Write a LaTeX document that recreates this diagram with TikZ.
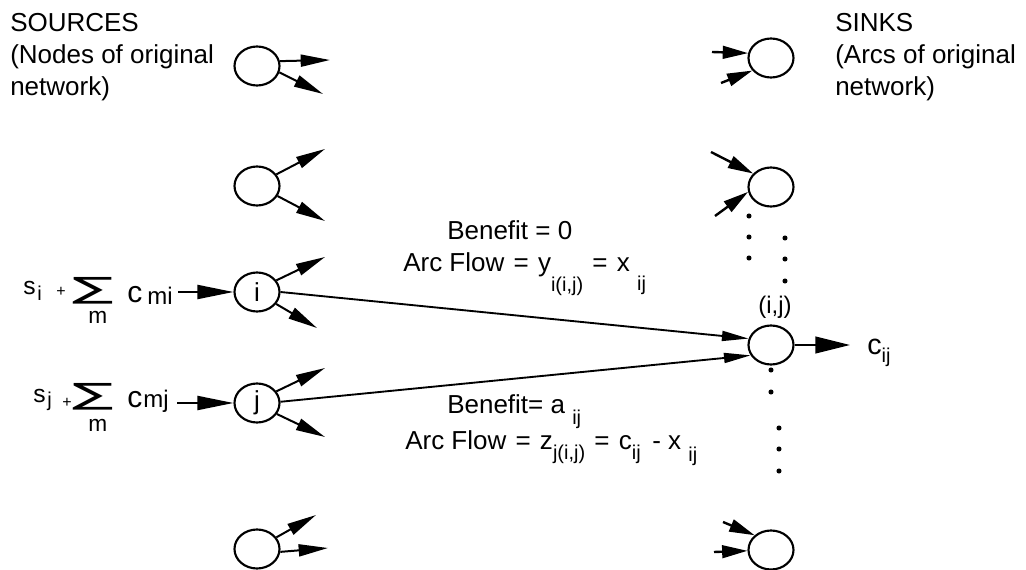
\documentclass[tikz,border=0pt]{standalone}
\usepackage{fontspec}
\usepackage{graphicx}
\setmainfont{Liberation Sans}
\newfontfamily\symfont{DejaVu Sans}
\usetikzlibrary{shapes.geometric,arrows.meta}
% font size helper (size in pt)
\newcommand\pxfont[1]{\fontsize{#1pt}{#1pt}\selectfont}
% lowered subscript: drop, text
\newcommand\lowsub[2]{\raisebox{-#1}{\pxfont{15}#2}}
% summation sign of fixed size
\newcommand\bigsum{{\symfont\resizebox*{31pt}{20pt}{∑}}}
% equals sign with slightly wide spacing
\newcommand\eqs{\ \hspace{1.5pt}=\ \hspace{1.5pt}}

\begin{document}
\begin{tikzpicture}[x=0.75pt,y=-0.75pt,
  nd/.style={draw,ellipse,line width=1.6pt,minimum width=33.75pt,
    minimum height=29.25pt,inner sep=0pt,font=\pxfont{19.5}},
  fan/.style={line width=1.5pt,-{Triangle[length=22pt,width=9pt]}},
  sinkin/.style={line width=1.8pt,-{Triangle[length=19pt,width=9.5pt]}},
  feed/.style={line width=1.5pt,-{Triangle[length=27pt,width=10.5pt]}},
  long/.style={line width=1.4pt,-{Triangle[length=20pt,width=7.5pt]}},
  outarrow/.style={line width=1.5pt,-{Triangle[length=26pt,width=12.5pt]}},
  lbl/.style={inner sep=0pt,anchor=base west,font=\pxfont{19.5}}
]
\useasboundingbox (0,0) rectangle (1026,570);

% ---------- headings ----------
\node[lbl] (srcA) at (10,32) {SOURCES};
\node[lbl] (srcB) at (10,64) {(Nodes of original};
\node[lbl] (srcC) at (10,96) {network)};
\node[lbl] (snkA) at (835,32) {SINKS};
\node[lbl] (snkB) at (835,64) {(Arcs of original};
\node[lbl] (snkC) at (835,96) {network)};

% ---------- source nodes ----------
\node[nd] (s1) at (257,66) {};
\node[nd] (s2) at (257,186) {};
\node[nd] (si) at (257,292) {i};
\node[nd] (sj) at (257,403) {j};
\node[nd] (s5) at (257,549) {};

% ---------- sink nodes ----------
\node[nd] (t1) at (771,58) {};
\node[nd] (t2) at (771,187) {};
\node[nd] (tij) at (771,345) {};
\node[nd] (t5) at (771,550) {};

% ---------- outgoing arcs of the sources ----------
\coordinate (s1a) at (330,60);  \coordinate (s1b) at (323,94);
\coordinate (s2a) at (325,149); \coordinate (s2b) at (325,221);
\coordinate (sia) at (325,257); \coordinate (sib) at (317,328);
\coordinate (sja) at (325,368); \coordinate (sjb) at (325,437);
\coordinate (s5a) at (316,515); \coordinate (s5b) at (328,548);
\draw[fan] (s1.12) -- (s1a);  \draw[fan] (s1.344) -- (s1b);
\draw[fan] (s2.31) -- (s2a);  \draw[fan] (s2.334) -- (s2b);
\draw[fan] (si.31) -- (sia);  \draw[fan] (si.328) -- (sib);
\draw[fan] (sj.31) -- (sja);  \draw[fan] (sj.331) -- (sjb);
\draw[fan] (s5.31) -- (s5a);  \draw[fan] (s5.353) -- (s5b);

% ---------- incoming arcs of the sinks ----------
\coordinate (t1a) at (712,52);  \coordinate (t1b) at (721,83);
\coordinate (t2a) at (711,152); \coordinate (t2b) at (715,216);
\coordinate (t5a) at (723,522); \coordinate (t5b) at (714,552);
\draw[sinkin] (t1a) -- (t1.168); \draw[sinkin] (t1b) -- (t1.214);
\draw[sinkin] (t2a) -- (t2.143); \draw[sinkin] (t2b) -- (t2.192);
\draw[sinkin] (t5a) -- (t5.138); \draw[sinkin] (t5b) -- (t5.182);

% ---------- the two arcs into sink (i,j) ----------
\draw[long] (si.east) -- (tij.164);
\draw[long] (sj.3) -- (tij.207);

% ---------- supply arrows ----------
\coordinate (siin) at (178,292);
\coordinate (sjin) at (177,403);
\draw[feed] (siin) -- (si);
\draw[feed] (sjin) -- (sj);

% ---------- demand arrow ----------
\coordinate (tout) at (850,345);
\draw[outarrow] (tij) -- (tout);
\node[lbl,font=\pxfont{21.5}] (cij) at (867,355) {c\raisebox{-5.5pt}{\pxfont{15}ij}};
\node[lbl,anchor=base,font=\pxfont{18}] (ijlbl) at (775,314) {(i,j)};

% ---------- supply expressions ----------
\node[lbl,font=\pxfont{18.5}] (ris) at (23,295) {s};
\node[lbl,font=\pxfont{15}] (risub) at (37,301) {i};
\node[lbl,font=\pxfont{12}] (riplus) at (56,297) {+};
\node[inner sep=0pt] (risum) at (93.5,291) {\bigsum};
\node[lbl,font=\pxfont{17}] (rim) at (88,324) {m};
\node[lbl,font=\pxfont{22.5}] (ric) at (127,303) {c};
\node[lbl,font=\pxfont{18}] (rimi) at (147,305) {mi};

\node[lbl,font=\pxfont{18.5}] (rjs) at (33,403) {s};
\node[lbl,font=\pxfont{15}] (rjsub) at (47,407) {j};
\node[lbl,font=\pxfont{12}] (rjplus) at (62,408) {+};
\node[inner sep=0pt] (rjsum) at (93.5,397) {\bigsum};
\node[lbl,font=\pxfont{17}] (rjm) at (88,432) {m};
\node[lbl,font=\pxfont{22.5}] (rjc) at (127,408) {c};
\node[lbl,font=\pxfont{18}] (rjmj) at (143,408) {mj};

% ---------- arc labels ----------
\node[lbl] (ben0) at (447,240) {Benefit = 0};
\node[lbl] (flow0) at (403,272) {Arc Flow\eqs y\lowsub{15pt}{i(i,j)}\eqs x \lowsub{14pt}{ij}};
\node[lbl] (ben1) at (447,414) {Benefit= a \lowsub{8pt}{ij}};
\node[lbl] (flow1) at (405,450) {Arc Flow\eqs z\lowsub{7pt}{j(i,j)}\eqs c\lowsub{7pt}{ij} \,- x \lowsub{9pt}{ij}};

% ---------- continuation dots ----------
\foreach \p/\q in {749/216,749/237,749/258,785/238,785/259,785/281,
                    771/370,771/392,779/428,779/449,779/471}
  \fill (\p,\q) circle (1.9pt);
\end{tikzpicture}
\end{document}
